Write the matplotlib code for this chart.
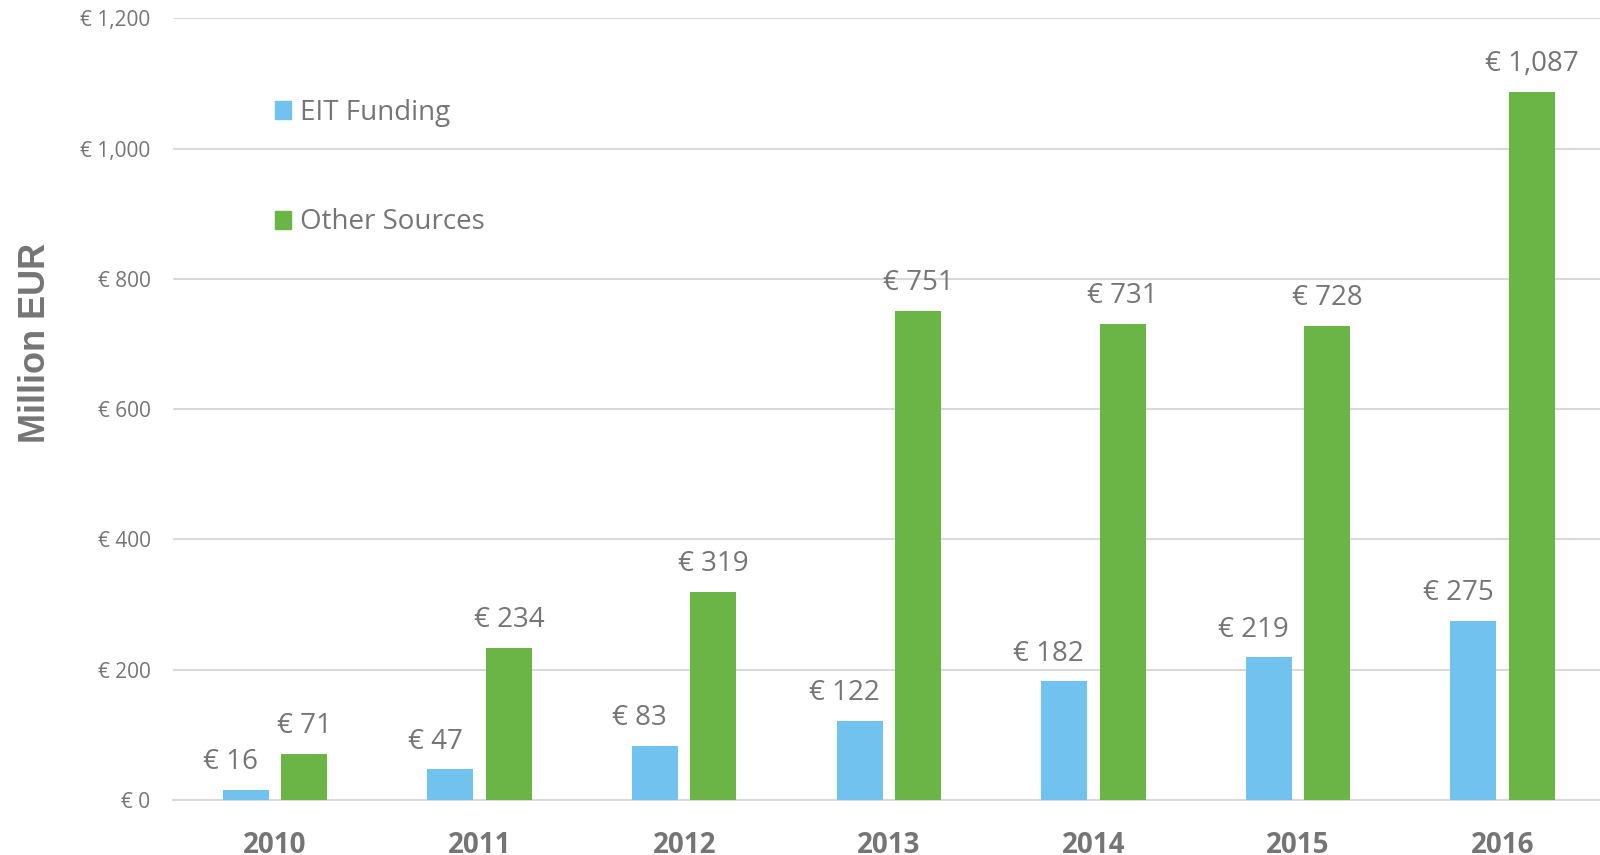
import numpy as np
import matplotlib
matplotlib.use('Agg')
import matplotlib.pyplot as plt
from matplotlib.patches import Patch

years = ['2010', '2011', '2012', '2013', '2014', '2015', '2016']
eit_funding = [16, 47, 83, 122, 182, 219, 275]
other_sources = [71, 234, 319, 751, 731, 728, 1087]

blue = '#71C2EE'
green = '#6AB545'
grey = '#757575'

plt.rcParams['font.family'] = ['Open Sans', 'DejaVu Sans']

fig = plt.figure(figsize=(16, 8.55), dpi=100)
ax = fig.add_axes([0.108, 0.0643, 0.895, 0.9142])

x = np.arange(len(years))
w = 0.225
off = 0.143
ax.bar(x - off, eit_funding, w, color=blue, zorder=3)
ax.bar(x + off, other_sources, w, color=green, zorder=3)

for xi, v in zip(x, eit_funding):
    ax.annotate('€ {:,}'.format(v), (xi - off, v), xytext=(-11, 20),
                textcoords='offset points', ha='center', va='center',
                fontsize=20, color=grey)
for xi, v in zip(x, other_sources):
    ax.annotate('€ {:,}'.format(v), (xi + off, v), xytext=(0, 20),
                textcoords='offset points', ha='center', va='center',
                fontsize=20, color=grey)

ax.set_xlim(-0.5, 6.5)
ax.set_ylim(0, 1200)
ax.set_yticks(range(0, 1201, 200))
ax.set_yticklabels(['€ {:,}'.format(t) for t in range(0, 1201, 200)])
ax.set_xticks(x)
ax.set_xticklabels(years, fontweight='bold', fontsize=20)
ax.tick_params(axis='x', length=0, pad=22, colors=grey)
ax.tick_params(axis='y', length=0, pad=16, colors=grey, labelsize=15)
ax.grid(axis='y', color='#D9D9D9', linewidth=1.5, zorder=0)

for s in ['top', 'right', 'left']:
    ax.spines[s].set_visible(False)
ax.spines['bottom'].set_color('#D9D9D9')
ax.spines['bottom'].set_linewidth(1.5)

ax.set_ylabel('Million EUR', fontsize=26, fontweight='bold', color=grey,
              family=['Liberation Sans', 'DejaVu Sans'])
ax.yaxis.set_label_coords(-0.084, 0.585)

handles = [Patch(color=blue, label='EIT Funding'),
           Patch(color=green, label='Other Sources')]
fig.legend(handles=handles, loc='upper left', bbox_to_anchor=(0.156, 0.914),
           frameon=False, fontsize=20, labelcolor=grey, handlelength=0.6,
           handleheight=0.6, handletextpad=0.3, labelspacing=2.95)

fig.savefig('out.png', dpi=100)
